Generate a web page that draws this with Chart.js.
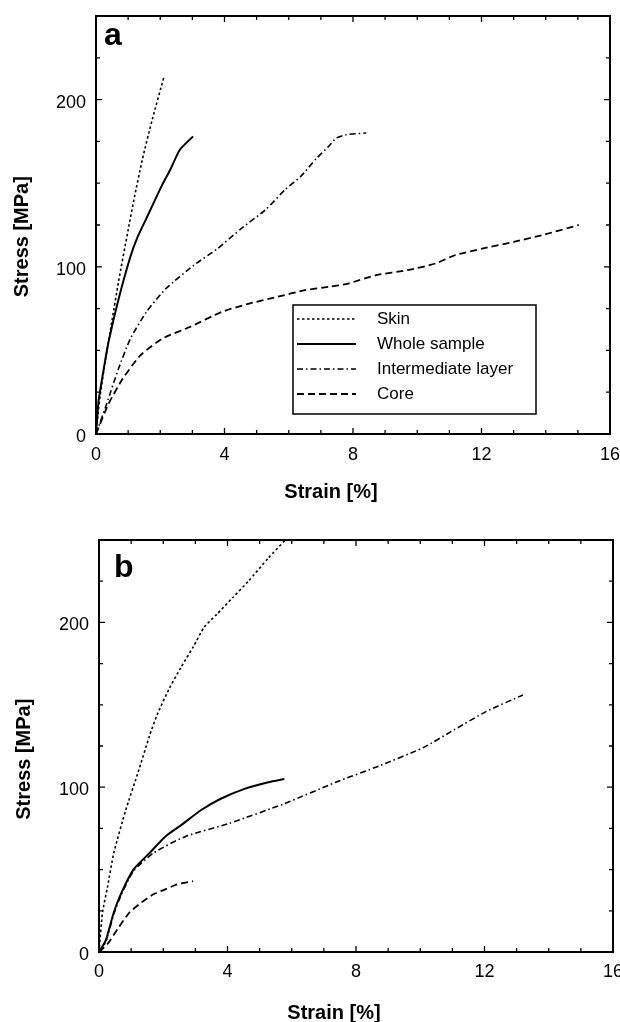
<!DOCTYPE html>
<html>
<head>
<meta charset="utf-8">
<script src="https://cdn.jsdelivr.net/npm/chart.js@4.4.0/dist/chart.umd.min.js"></script>
<style>
  html, body { margin: 0; padding: 0; background: #fff; }
  #wrap { position: relative; width: 620px; height: 1022px; }
  canvas { position: absolute; left: 0; }
  #chartA { top: 0; }
  #chartB { top: 520px; }
</style>
</head>
<body>
<div id="wrap">
  <canvas id="chartA" width="620" height="520"></canvas>
  <canvas id="chartB" width="620" height="502"></canvas>
</div>
<script>
// tick labels
const strainTicks = [0, 4, 8, 12, 16];
const stressTicks = [0, 100, 200];
const seriesNames = ['Skin', 'Whole sample', 'Intermediate layer', 'Core'];

// panel a : [strain %, stress MPa]
const skinA = [[0, 0], [0.08, 15], [0.15, 26], [0.3, 45], [0.5, 68], [0.7, 91], [1.0, 122], [1.2, 142],
  [1.44, 164], [1.75, 188], [2.12, 214]];
const wholeA = [[0, 0], [0.08, 20], [0.13, 26], [0.25, 40], [0.39, 55], [0.68, 79], [1.07, 106], [1.3, 118],
  [1.57, 129], [2.06, 149], [2.31, 158], [2.61, 170], [3.02, 178]];
const interA = [[0, 0], [0.33, 18], [0.7, 39], [1.07, 57], [1.57, 73], [2.18, 87], [3.05, 101], [3.79, 111],
  [4.53, 123], [5.27, 134], [5.88, 146], [6.37, 154], [6.87, 165], [7.24, 172], [7.48, 177], [7.79, 179], [8.41, 180]];
const coreA = [[0, 0], [0.39, 18], [0.83, 33], [1.38, 47], [2.06, 57], [2.92, 64], [3.91, 73], [4.77, 78],
  [5.64, 82], [6.5, 86], [7.24, 88], [7.85, 90], [8.72, 95], [9.7, 98], [10.57, 102], [11.18, 107],
  [12.05, 111], [13.03, 115], [13.9, 119], [15.03, 125]];

// panel b
const skinB = [[0, 0], [0.11, 24], [0.27, 40], [0.46, 60], [0.83, 86], [1.2, 108], [1.57, 131], [1.81, 144],
  [2.19, 160], [2.56, 173], [2.93, 185], [3.27, 197], [3.67, 205], [4.16, 215], [4.65, 225], [5.27, 239], [5.8, 250]];
const wholeB = [[0, 0], [0.21, 7], [0.46, 24], [0.7, 36], [1.07, 50], [1.57, 60], [2.06, 70], [2.56, 77],
  [3.17, 86], [3.79, 93], [4.53, 99], [5.27, 103], [5.77, 105]];
const interB = [[0, 0], [0.21, 6], [0.46, 23], [0.7, 35], [1.07, 49], [1.69, 60], [2.68, 70], [4.04, 78],
  [5.77, 90], [7.37, 103], [8.73, 113], [10.09, 124], [11.07, 135], [12.06, 146], [13.2, 156]];
const coreB = [[0, 0], [0.27, 5], [0.58, 14], [0.95, 24], [1.32, 30], [1.69, 35], [2.06, 38], [2.43, 41], [2.93, 43]];

const FONT = '"Liberation Sans", Arial, Helvetica, sans-serif';
Chart.defaults.font.family = FONT;
Chart.defaults.color = '#000';

// line looks, same order as seriesNames
const lineStyles = [
  { borderWidth: 1.6, borderDash: [2.5, 2.5] },
  { borderWidth: 2, borderDash: [] },
  { borderWidth: 1.6, borderDash: [6, 3, 1.5, 3] },
  { borderWidth: 1.8, borderDash: [7, 4] }
];

function makeDatasets(lists) {
  return lists.map((pts, i) => ({
    label: seriesNames[i],
    data: pts.map(([x, y]) => ({ x, y })),
    borderColor: '#000',
    borderWidth: lineStyles[i].borderWidth,
    borderDash: lineStyles[i].borderDash,
    pointRadius: 0,
    tension: 0.2,
    fill: false
  }));
}

// frame, inward ticks, axis titles, panel letter, boxed legend
const decor = {
  id: 'decor',
  afterDraw(chart, args, o) {
    const { ctx, chartArea: a } = chart;
    const x = chart.scales.x, y = chart.scales.y;
    ctx.save();
    ctx.strokeStyle = '#000';
    ctx.fillStyle = '#000';
    ctx.lineWidth = 2;
    ctx.strokeRect(a.left, a.top, a.right - a.left, a.bottom - a.top);

    ctx.lineWidth = 1.3;
    ctx.beginPath();
    x.ticks.forEach(t => {
      const px = x.getPixelForValue(t.value);
      const len = t.label !== '' ? 6 : 4;
      ctx.moveTo(px, a.bottom); ctx.lineTo(px, a.bottom - len);
      ctx.moveTo(px, a.top); ctx.lineTo(px, a.top + len);
    });
    y.ticks.forEach(t => {
      const py = y.getPixelForValue(t.value);
      const len = t.label !== '' ? 6 : 4;
      ctx.moveTo(a.left, py); ctx.lineTo(a.left + len, py);
      ctx.moveTo(a.right, py); ctx.lineTo(a.right - len, py);
    });
    ctx.stroke();

    ctx.font = 'bold 20px ' + FONT;
    ctx.textAlign = 'center';
    ctx.textBaseline = 'middle';
    ctx.fillText('Strain [%]', o.xTitleX, o.xTitleY);
    ctx.save();
    ctx.translate(o.yTitleX, y.getPixelForValue(o.yTitleAt));
    ctx.rotate(-Math.PI / 2);
    ctx.fillText('Stress [MPa]', 0, 0);
    ctx.restore();

    ctx.font = 'bold 32px ' + FONT;
    ctx.textAlign = 'left';
    ctx.textBaseline = 'alphabetic';
    ctx.fillText(o.letter, o.letterX, o.letterY);

    if (o.legend) {
      const L = o.legend;
      ctx.fillStyle = '#fff';
      ctx.fillRect(L.left, L.top, L.width, L.height);
      ctx.fillStyle = '#000';
      ctx.lineWidth = 1.5;
      ctx.strokeRect(L.left, L.top, L.width, L.height);
      ctx.font = '17px ' + FONT;
      ctx.textBaseline = 'middle';
      chart.data.datasets.forEach((ds, i) => {
        const ry = L.firstRow + i * L.rowGap;
        ctx.setLineDash(ds.borderDash);
        ctx.lineWidth = ds.borderWidth;
        ctx.beginPath();
        ctx.moveTo(L.sampleX0, ry);
        ctx.lineTo(L.sampleX1, ry);
        ctx.stroke();
        ctx.setLineDash([]);
        ctx.fillText(ds.label, L.textX, ry);
      });
    }
    ctx.restore();
  }
};

function buildPanel(id, lists, box, deco) {
  const ctx = document.getElementById(id).getContext('2d');
  const h = ctx.canvas.height;
  return new Chart(ctx, {
    type: 'line',
    data: { datasets: makeDatasets(lists) },
    plugins: [decor],
    options: {
      responsive: false,
      animation: false,
      events: [],
      layout: { padding: { top: box.top, right: 620 - box.right, left: 0, bottom: 0 } },
      plugins: {
        legend: { display: false },
        tooltip: { enabled: false },
        decor: deco
      },
      scales: {
        x: {
          type: 'linear', min: 0, max: 16,
          grid: { display: false, drawTicks: false },
          border: { display: false },
          ticks: {
            stepSize: 1, autoSkip: false, maxRotation: 0, minRotation: 0,
            padding: box.xPad, font: { size: 18 }, color: '#000',
            callback: v => strainTicks.includes(v) ? String(v) : ''
          },
          afterFit: s => { s.height = h - box.bottom; s.paddingLeft = 0; s.paddingRight = 0; }
        },
        y: {
          type: 'linear', min: 0, max: 250,
          grid: { display: false, drawTicks: false },
          border: { display: false },
          ticks: {
            stepSize: 25, autoSkip: false, padding: 10, labelOffset: 3,
            font: { size: 18 }, color: '#000',
            callback: v => stressTicks.includes(v) ? String(v) : ''
          },
          afterFit: s => { s.width = box.left; s.paddingTop = 0; s.paddingBottom = 0; }
        }
      }
    }
  });
}

buildPanel('chartA', [skinA, wholeA, interA, coreA],
  { left: 96, right: 610, top: 16, bottom: 434, xPad: 10 },
  {
    letter: 'a', letterX: 104, letterY: 45,
    xTitleX: 331, xTitleY: 492, yTitleX: 22, yTitleAt: 118,
    legend: { left: 293, top: 305, width: 243, height: 109, firstRow: 319, rowGap: 25,
      sampleX0: 297, sampleX1: 356, textX: 377 }
  });

buildPanel('chartB', [skinB, wholeB, interB, coreB],
  { left: 99, right: 613, top: 20, bottom: 432, xPad: 9 },
  {
    letter: 'b', letterX: 114, letterY: 57,
    xTitleX: 334, xTitleY: 493, yTitleX: 24, yTitleAt: 117,
    legend: null
  });
</script>
</body>
</html>
